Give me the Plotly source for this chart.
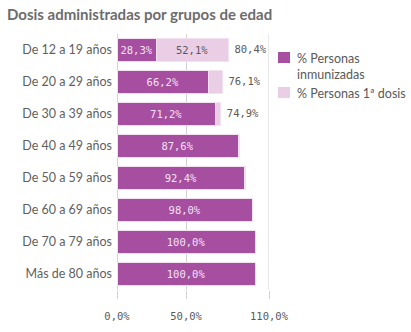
import plotly.graph_objects as go

categories = ["De 12 a 19 años", "De 20 a 29 años", "De 30 a 39 años", "De 40 a 49 años",
              "De 50 a 59 años", "De 60 a 69 años", "De 70 a 79 años", "Más de 80 años"]
inmunizadas = [28.3, 66.2, 71.2, 87.6, 92.4, 98.0, 100.0, 100.0]
primera_dosis = [80.4, 76.1, 74.9, 88.5, 92.8, 98.4, 100.0, 100.0]
series_names = ["% Personas<br>inmunizadas", "% Personas 1ª dosis"]
x_ticks = [0, 50, 110]

DARK = "rgb(166,78,160)"
LIGHT = "rgb(233,206,230)"
EDGE = "rgb(243,224,241)"
GREY = "rgb(89,89,89)"
NUMFONT = "DejaVu Sans Mono"
SANS = "Lato"

def fmt(v):
    return f"{v:.1f}".replace(".", ",") + "%"

extra = [round(t - d, 1) for t, d in zip(primera_dosis, inmunizadas)]

fig = go.Figure()
fig.add_trace(go.Bar(
    y=categories, x=inmunizadas, orientation="h", marker=dict(color=DARK, line=dict(color=EDGE, width=1)),
    text=[fmt(v) for v in inmunizadas], textposition="inside", insidetextanchor="middle",
    textangle=0, textfont=dict(family=NUMFONT, size=10.5, color="rgb(245,228,243)"),
    hoverinfo="skip", showlegend=False, cliponaxis=False,
))
fig.add_trace(go.Bar(
    y=categories, x=extra, orientation="h", marker=dict(color=LIGHT, line=dict(color=EDGE, width=1)),
    text=[fmt(v) if v >= 20 else "" for v in extra], textposition="inside", insidetextanchor="middle",
    textangle=0, textfont=dict(family=NUMFONT, size=10.5, color=GREY),
    hoverinfo="skip", showlegend=False,
))
show_tot = [e >= 2 for e in extra]
fig.add_trace(go.Scatter(
    y=[c for c, s in zip(categories, show_tot) if s],
    x=[t for t, s in zip(primera_dosis, show_tot) if s],
    mode="text", text=[" " + fmt(t) for t, s in zip(primera_dosis, show_tot) if s],
    textposition="middle right", textfont=dict(family=NUMFONT, size=10.5, color=GREY),
    hoverinfo="skip", showlegend=False, cliponaxis=False,
))

W, H = 411, 332
L, R, T, B = 117, 142, 34, 42
pw = W - L - R
ph = H - T - B

def px(x):
    return (x - L) / pw

def py(y):
    return 1 - (y - T) / ph

shapes = []
annotations = []
legend_rows = [(52, 63, DARK), (87, 98, LIGHT)]
for (y0, y1, col), name, ty in zip(legend_rows, series_names, [49, 84]):
    shapes.append(dict(type="rect", xref="paper", yref="paper", x0=px(278), x1=px(290),
                       y0=py(y1), y1=py(y0), fillcolor=col, line=dict(width=0)))
    annotations.append(dict(xref="paper", yref="paper", x=px(295), y=py(ty), text=name,
                            showarrow=False, xanchor="left", yanchor="top", align="left",
                            font=dict(family=SANS, size=12.5, color=GREY)))
shapes.append(dict(type="line", xref="x", yref="paper", x0=110, x1=110, y0=0, y1=1,
                   line=dict(color="rgb(210,210,210)", width=1)))
annotations.append(dict(xref="paper", yref="paper", x=px(5), y=py(3), text="<b>Dosis administradas por grupos de edad</b>",
                        showarrow=False, xanchor="left", yanchor="top",
                        font=dict(family=SANS, size=15, color="rgb(108,108,108)")))

fig.update_layout(
    width=W, height=H, margin=dict(l=L, r=R, t=T, b=B, autoexpand=False),
    paper_bgcolor="white", plot_bgcolor="white",
    barmode="stack", bargap=0.31,
    shapes=shapes, annotations=annotations,
    xaxis=dict(range=[0, 110], tickvals=x_ticks, ticktext=[fmt(v) for v in x_ticks],
               showgrid=True, gridcolor="rgb(210,210,210)", gridwidth=1,
               zeroline=True, zerolinecolor="rgb(210,210,210)", zerolinewidth=1,
               ticks="outside", ticklen=8, tickcolor="rgb(210,210,210)", ticklabelstandoff=8,
               tickfont=dict(family=NUMFONT, size=10.5, color=GREY), showline=False, fixedrange=True),
    yaxis=dict(autorange="reversed", showgrid=False, zeroline=False, showline=False, ticks="",
               ticklabelstandoff=4,
               tickfont=dict(family=SANS, size=12.5, color="rgb(95,95,95)"), fixedrange=True),
)

fig.write_html("out.html", config=dict(displayModeBar=False))
